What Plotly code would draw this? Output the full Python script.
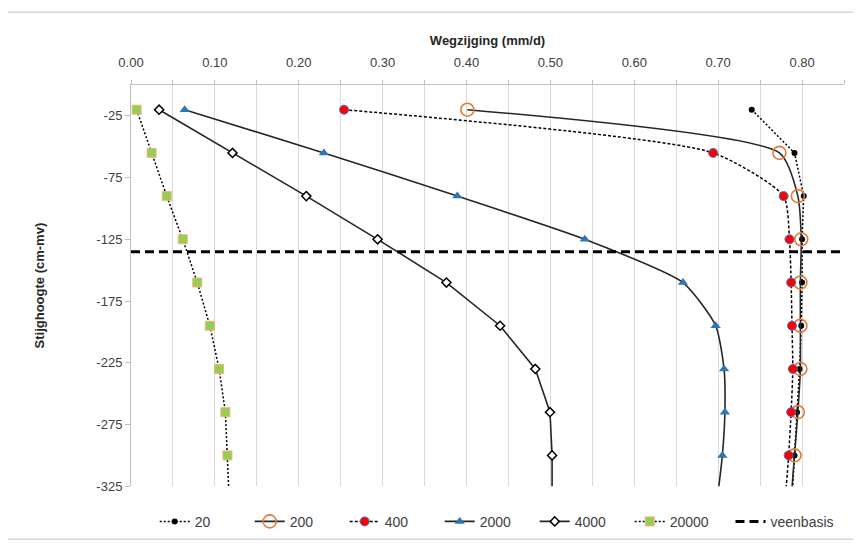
import plotly.graph_objects as go

# depths (cm-mv); last value lies just below the visible range so lines run to the bottom
depth = [-20, -55, -90, -125, -160, -195, -230, -265, -300, -335]

s20 = [0.740, 0.791, 0.802, 0.800, 0.800, 0.799, 0.797, 0.794, 0.791, 0.788]
s200 = [0.401, 0.773, 0.795, 0.799, 0.798, 0.798, 0.798, 0.795, 0.791, 0.787]
s400 = [0.254, 0.694, 0.778, 0.785, 0.787, 0.788, 0.789, 0.787, 0.784, 0.780]
s2000 = [0.064, 0.230, 0.389, 0.541, 0.658, 0.697, 0.707, 0.708, 0.705, 0.699]
s4000 = [0.0335, 0.121, 0.209, 0.294, 0.376, 0.440, 0.482, 0.4995, 0.502, 0.502]
s20000 = [0.0067, 0.0246, 0.0426, 0.0617, 0.079, 0.094, 0.105, 0.1125, 0.115, 0.117]

veenbasis_depth = -135
veen_x = [0.0, 0.85]

y_ticks = [-25, -75, -125, -175, -225, -275, -325]
y_ticktext = ["-25", "-75", "-125", "-175", "-225", "-275", "-325"]

FONT = "Liberation Sans Narrow, Liberation Sans, Arial, sans-serif"

fig = go.Figure()

fig.add_trace(go.Scatter(
    x=s20, y=depth, name="20", mode="lines+markers",
    line=dict(color="black", width=1.5, dash="2px,2px"),
    marker=dict(symbol="circle", size=6, color="black"),
))
fig.add_trace(go.Scatter(
    x=s200, y=depth, name="200", mode="lines+markers",
    line=dict(color="#262626", width=1.6, shape="spline", smoothing=0.6),
    marker=dict(symbol="circle-open", size=13, color="#E07B39", line=dict(width=1.6)),
))
fig.add_trace(go.Scatter(
    x=s400, y=depth, name="400", mode="lines+markers",
    line=dict(color="black", width=1.5, dash="3px,2px", shape="spline", smoothing=0.6),
    marker=dict(symbol="circle", size=9, color="#FF0000", line=dict(color="#4472C4", width=1)),
))
fig.add_trace(go.Scatter(
    x=s2000, y=depth, name="2000", mode="lines+markers",
    line=dict(color="#262626", width=1.6, shape="spline", smoothing=0.6),
    marker=dict(symbol="triangle-up", size=9, color="#2E75B6"),
))
fig.add_trace(go.Scatter(
    x=s4000, y=depth, name="4000", mode="lines+markers",
    line=dict(color="#262626", width=1.6),
    marker=dict(symbol="diamond", size=7, color="white", line=dict(color="black", width=1.5)),
))
fig.add_trace(go.Scatter(
    x=s20000, y=depth, name="20000", mode="lines+markers",
    line=dict(color="black", width=1.5, dash="2px,2px"),
    marker=dict(symbol="square", size=9, color="#92D050", line=dict(color="#F4B183", width=1)),
))
fig.add_trace(go.Scatter(
    x=veen_x, y=[veenbasis_depth] * len(veen_x), name="veenbasis", mode="lines",
    line=dict(color="black", width=3, dash="9px,5px"), legend="legend2",
))

# the page body adds an 8px offset, so the figure is drawn 8px smaller with shifted margins
fig.update_layout(
    width=853, height=538,
    margin=dict(l=123, r=17, t=77, b=51),
    paper_bgcolor="white", plot_bgcolor="white",
    font=dict(family=FONT, size=13, color="#404040"),
    showlegend=True,
    legend=dict(
        orientation="h", xref="container", yref="container",
        x=0.172, xanchor="left", y=0.045, yanchor="middle",
        font=dict(size=14, color="#404040"),
        entrywidth=50, entrywidthmode="pixels",
        traceorder="normal", tracegroupgap=0,
    ),
    legend2=dict(
        orientation="h", xref="container", yref="container",
        x=0.847, xanchor="left", y=0.045, yanchor="middle",
        font=dict(size=14, color="#404040"),
    ),
    shapes=[dict(type="rect", xref="paper", yref="paper",
                 x0=-126 / 713, x1=1 + 11 / 713, y0=-53 / 402, y1=1 + 73 / 402,
                 line=dict(color="#BFBFBF", width=1))],
)

fig.update_xaxes(
    side="top", range=[0, 0.85], dtick=0.1, tick0=0, tickformat=".2f",
    showgrid=True, gridcolor="#D9D9D9", gridwidth=1,
    minor=dict(dtick=0.05, tick0=0, showgrid=True, gridcolor="#D9D9D9", ticks="outside", ticklen=4, tickcolor="#BFBFBF"),
    ticks="outside", ticklen=4, tickcolor="#BFBFBF", ticklabelstandoff=8,
    showline=True, linecolor="#BFBFBF", linewidth=1,
    zeroline=False,
    tickfont=dict(size=13, color="#404040"),
    title=dict(text="<b>Wegzijging (mm/d)</b>", font=dict(size=13, color="#262626"), standoff=6),
)
fig.update_yaxes(
    range=[-325, 0], tickvals=y_ticks, ticktext=y_ticktext,
    showgrid=False, zeroline=False,
    ticks="outside", ticklen=5, tickcolor="#BFBFBF",
    showline=True, linecolor="#BFBFBF", linewidth=1,
    tickfont=dict(size=13, color="#404040"),
    title=dict(text="<b>Stijghoogte (cm-mv)</b>", font=dict(size=13, color="#262626"), standoff=48),
)

fig.write_html("out.html")
